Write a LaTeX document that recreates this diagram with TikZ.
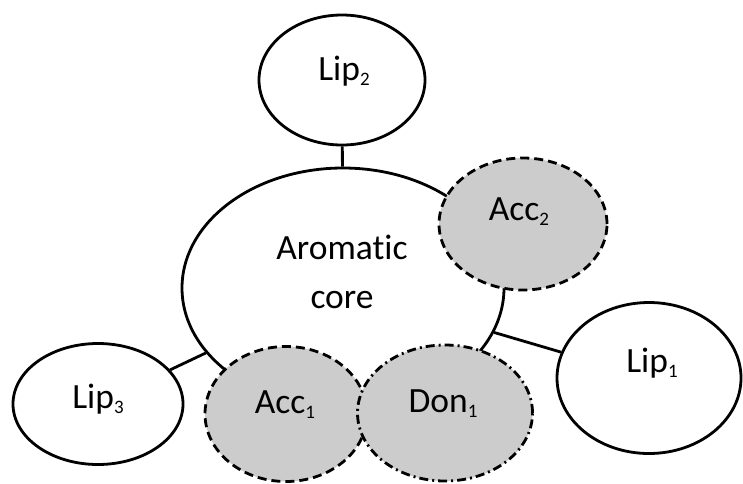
\documentclass[tikz,border=0pt]{standalone}
\usepackage{fontspec}
\setmainfont{Carlito}[Ligatures=NoCommon]
\usetikzlibrary{shapes.geometric}
\definecolor{accfill}{RGB}{204,204,204}
\newcommand\lsub[1]{\raisebox{-5pt}{\fontsize{19}{19}\selectfont #1}}
\tikzset{
  ell/.style={ellipse, draw=black, line width=2.8pt, inner sep=0pt, fill=white},
  accell/.style={ell, fill=accfill, dash pattern=on 9pt off 5pt},
  donell/.style={ell, fill=accfill, dash pattern=on 9pt off 4pt on 2pt off 4pt},
  link/.style={line width=2.8pt},
  lbl/.style={anchor=base, inner sep=0pt, font=\fontsize{35.5}{40}\selectfont}
}
\begin{document}
\begin{tikzpicture}[x=1pt,y=-1pt]
\useasboundingbox (0,0) rectangle (743,483);
% core
\node[ell, minimum width=322pt, minimum height=240pt] (core) at (343,288) {};
% lipophilic nodes
\node[ell, minimum width=166pt, minimum height=130pt] (lip2) at (342,80) {};
\node[ell, minimum width=170pt, minimum height=121pt] (lip3) at (98,404) {};
\node[ell, minimum width=184pt, minimum height=151pt] (lip1) at (649,378) {};
% connectors
\draw[link] (lip2) -- (core);
\draw[link] (lip3) -- (core);
\draw[link] (lip1) -- (core);
% acceptors / donor
\node[accell, minimum width=168pt, minimum height=132pt] (acc2) at (523,224) {};
\node[accell, minimum width=162pt, minimum height=135pt] (acc1) at (286,414) {};
\node[donell, minimum width=175pt, minimum height=136pt] (don1) at (445,413) {};
% labels
\node[lbl] (tcore1) at (342,259) {Aromatic};
\node[lbl] (tcore2) at (342,308) {core};
\node[lbl] (tlip2) at (344,80) {Lip\lsub{2}};
\node[lbl] (tacc2) at (519,220) {Acc\lsub{2}};
\node[lbl] (tlip1) at (652,372) {Lip\lsub{1}};
\node[lbl] (tlip3) at (98,408) {Lip\lsub{3}};
\node[lbl] (tacc1) at (285,413) {Acc\lsub{1}};
\node[lbl] (tdon1) at (443,412) {Don\lsub{1}};
\end{tikzpicture}
\end{document}
